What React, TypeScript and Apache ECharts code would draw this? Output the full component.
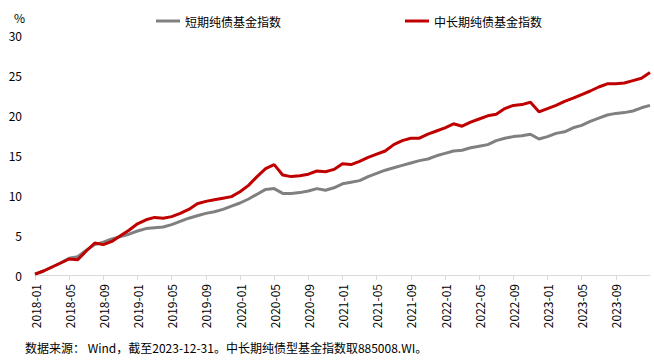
import React, { useEffect, useRef } from "react";
import * as echarts from "echarts";

const months: string[] = [];
for (let y = 2018; y <= 2023; y++) {
  for (let m = 1; m <= 12; m++) months.push(`${y}-${m < 10 ? "0" + m : m}`);
}
months.push("2023-12-31");

const shortTerm = [
  0.1, 0.5, 1.0, 1.5, 2.1, 2.3, 3.1, 3.8, 4.1, 4.5, 4.8, 5.1,
  5.5, 5.8, 5.9, 6.0, 6.3, 6.7, 7.1, 7.4, 7.7, 7.9, 8.2, 8.6,
  9.0, 9.5, 10.1, 10.7, 10.8, 10.2, 10.2, 10.3, 10.5, 10.8, 10.6, 10.9,
  11.4, 11.6, 11.8, 12.3, 12.7, 13.1, 13.4, 13.7, 14.0, 14.3, 14.5, 14.9,
  15.2, 15.5, 15.6, 15.9, 16.1, 16.3, 16.8, 17.1, 17.3, 17.4, 17.6, 17.0,
  17.3, 17.7, 17.9, 18.4, 18.7, 19.2, 19.6, 20.0, 20.2, 20.3, 20.5, 20.9,
  21.2,
];

const midLongTerm = [
  0.1, 0.5, 1.0, 1.5, 2.0, 1.9, 3.0, 4.0, 3.8, 4.2, 4.9, 5.6,
  6.4, 6.9, 7.2, 7.1, 7.3, 7.7, 8.2, 8.9, 9.2, 9.4, 9.6, 9.8,
  10.4, 11.2, 12.3, 13.3, 13.8, 12.5, 12.3, 12.4, 12.6, 13.0, 12.9, 13.2,
  13.9, 13.8, 14.2, 14.7, 15.1, 15.5, 16.3, 16.8, 17.1, 17.1, 17.6, 18.0,
  18.4, 18.9, 18.6, 19.1, 19.5, 19.9, 20.1, 20.8, 21.2, 21.3, 21.6, 20.4,
  20.8, 21.2, 21.7, 22.1, 22.55, 23.0, 23.5, 23.9, 23.9, 24.0, 24.3, 24.6,
  25.3,
];

const seriesNames = ["短期纯债基金指数", "中长期纯债基金指数"];
const sourceNote = "数据来源： Wind，截至2023-12-31。中长期纯债型基金指数取885008.WI。";

const FONT = "'Noto Sans CJK SC', 'Noto Sans', sans-serif";

export default function App() {
  const ref = useRef<HTMLDivElement>(null);
  useEffect(() => {
    if (!ref.current) return;
    const chart = echarts.init(ref.current, null, { renderer: "svg" });
    const showIdx = (i: number) => i % 4 === 0 && i < 72;
    chart.setOption({
      animation: false,
      textStyle: { fontFamily: FONT },
      legend: {
        left: 151,
        top: 10,
        itemGap: 124,
        itemWidth: 24,
        itemHeight: 10,
        textStyle: { fontSize: 12, color: "#000", fontFamily: FONT },
        data: seriesNames.map((n) => ({ name: n, icon: "path://M0,4 L24,4 L24,7 L0,7 Z" })),
      },
      grid: { left: 35, right: 4, top: 35, bottom: 85, containLabel: false },
      xAxis: {
        type: "category",
        data: months,
        boundaryGap: false,
        axisLine: { lineStyle: { color: "#d9d9d9", width: 1 } },
        axisTick: { show: true, interval: (i: number) => showIdx(i), length: 5, lineStyle: { color: "#d9d9d9" } },
        axisLabel: {
          interval: (i: number) => showIdx(i),
          rotate: 90,
          margin: 9,
          fontSize: 12,
          color: "#000",
          fontFamily: FONT,
        },
      },
      yAxis: {
        type: "value",
        min: 0,
        max: 30,
        interval: 5,
        name: "%",
        nameLocation: "end",
        nameGap: 12,
        nameTextStyle: { color: "#000", fontSize: 12, align: "right", padding: [0, 10, 0, 0] },
        axisLine: { show: false },
        axisTick: { show: false },
        splitLine: { show: false },
        axisLabel: { fontSize: 12, color: "#000", margin: 13, fontFamily: FONT },
      },
      series: [
        {
          name: seriesNames[0],
          type: "line",
          data: shortTerm,
          showSymbol: false,
          lineStyle: { color: "#808080", width: 3 },
          itemStyle: { color: "#808080" },
        },
        {
          name: seriesNames[1],
          type: "line",
          data: midLongTerm,
          showSymbol: false,
          lineStyle: { color: "#C00000", width: 3 },
          itemStyle: { color: "#C00000" },
        },
      ],
      graphic: [
        {
          type: "text",
          left: 25,
          top: 341,
          style: { text: sourceNote, fontSize: 12, fill: "#000", fontFamily: FONT },
        },
      ],
    });
    return () => chart.dispose();
  }, []);
  return <div ref={ref} style={{ width: 654, height: 360, position: "absolute", left: 0, top: 0 }} />;
}
